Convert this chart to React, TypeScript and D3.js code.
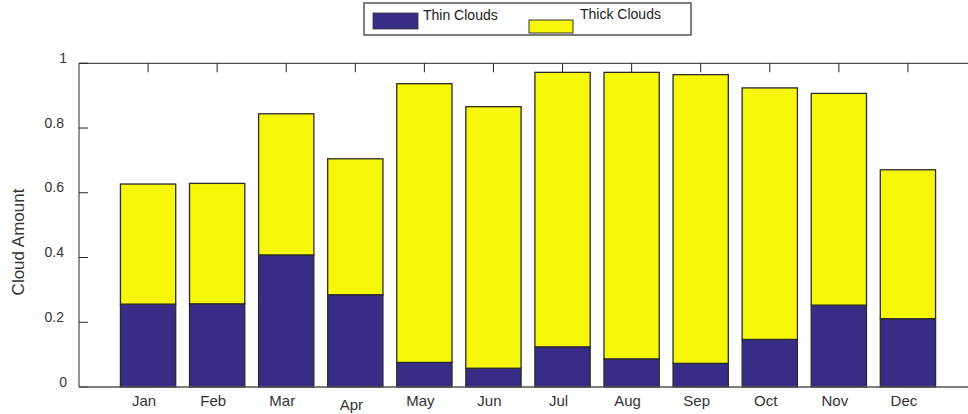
import React from "react";
import * as d3 from "d3";

const months = ["Jan", "Feb", "Mar", "Apr", "May", "Jun", "Jul", "Aug", "Sep", "Oct", "Nov", "Dec"];
const thinClouds = [0.256, 0.257, 0.408, 0.285, 0.076, 0.058, 0.124, 0.087, 0.073, 0.147, 0.253, 0.211];
const totalClouds = [0.627, 0.629, 0.844, 0.705, 0.937, 0.866, 0.972, 0.972, 0.965, 0.924, 0.907, 0.671];
const thickClouds = totalClouds.map((t, i) => t - thinClouds[i]);
const yTicks = [0, 0.2, 0.4, 0.6, 0.8, 1];
const yTickLabels = ["0", "0.2", "0.4", "0.6", "0.8", "1"];

const W = 968;
const H = 414;
const NAVY = "#372c86";
const YELLOW = "#f7f70a";
const FONT = "Arial, 'Liberation Sans', Helvetica, sans-serif";

export default function App() {
  const x = d3.scaleLinear().domain([0, 13]).range([79, 977]);
  const y = d3.scaleLinear().domain([0, 1]).range([387, 63.3]);
  const step = x(1) - x(0);
  const bw = step * 0.8;

  const stack = d3.stack<number>().keys(["thin", "thick"]).value((i, k) => (k === "thin" ? thinClouds[i] : thickClouds[i]));
  const series = stack(d3.range(months.length));
  const colors = [NAVY, YELLOW];

  return (
    <svg width={W} height={H} style={{ position: "absolute", left: 0, top: 0, background: "#fff" }} fontFamily={FONT}>
      <rect x={0} y={0} width={W} height={H} fill="#fff" />
      {/* top axis line and ticks */}
      <line x1={x(0)} x2={W} y1={y(1)} y2={y(1)} stroke="#222" strokeWidth={1} />
      {months.map((m, i) => (
        <line key={"tt" + m} x1={x(i + 1)} x2={x(i + 1)} y1={y(1)} y2={y(1) + 9} stroke="#222" strokeWidth={1} />
      ))}
      {/* left axis */}
      <line x1={x(0)} x2={x(0)} y1={y(1)} y2={y(0)} stroke="#222" strokeWidth={1} />
      {yTicks.map((t, i) => (
        <g key={"yt" + t}>
          <line x1={x(0)} x2={x(0) + 9} y1={y(t)} y2={y(t)} stroke="#222" strokeWidth={1} />
          <text
            x={yTickLabels[i].length === 1 ? 67 : 64}
            y={y(t) - 4}
            textAnchor="end"
            dominantBaseline="middle"
            fontSize={14}
            fill="#333"
          >
            {yTickLabels[i]}
          </text>
        </g>
      ))}
      {/* bars */}
      {series.map((s, si) =>
        s.map((d, i) => (
          <rect
            key={si + "-" + i}
            x={x(i + 1) - bw / 2}
            y={y(d[1])}
            width={bw}
            height={y(d[0]) - y(d[1])}
            fill={colors[si]}
            stroke="#2a2a2a"
            strokeWidth={1.3}
          />
        ))
      )}
      {/* bottom axis */}
      <line x1={x(0)} x2={W} y1={y(0)} y2={y(0)} stroke="#555" strokeWidth={1.5} />
      {months.map((m, i) => (
        <text
          key={"xl" + m}
          x={x(i + 1) - 4}
          y={m === "Apr" ? 406.5 : 402.5}
          textAnchor="middle"
          dominantBaseline="middle"
          fontSize={15}
          fill="#333"
        >
          {m}
        </text>
      ))}
      {/* y label */}
      <text
        transform={`translate(20,242) rotate(-90)`}
        textAnchor="middle"
        dominantBaseline="middle"
        fontSize={17}
        fill="#333"
      >
        Cloud Amount
      </text>
      {/* legend */}
      <rect x={364} y={3} width={327} height={32} fill="#fff" stroke="#555" strokeWidth={1.5} />
      <rect x={373} y={13} width={45} height={16} fill={NAVY} stroke="#333" strokeWidth={0.8} />
      <text x={423} y={16} dominantBaseline="middle" fontSize={14} fill="#222">
        Thin Clouds
      </text>
      <rect x={529} y={20} width={44} height={13} fill={YELLOW} stroke="#333" strokeWidth={1} />
      <text x={580} y={15} dominantBaseline="middle" fontSize={14} fill="#222">
        Thick Clouds
      </text>
    </svg>
  );
}
